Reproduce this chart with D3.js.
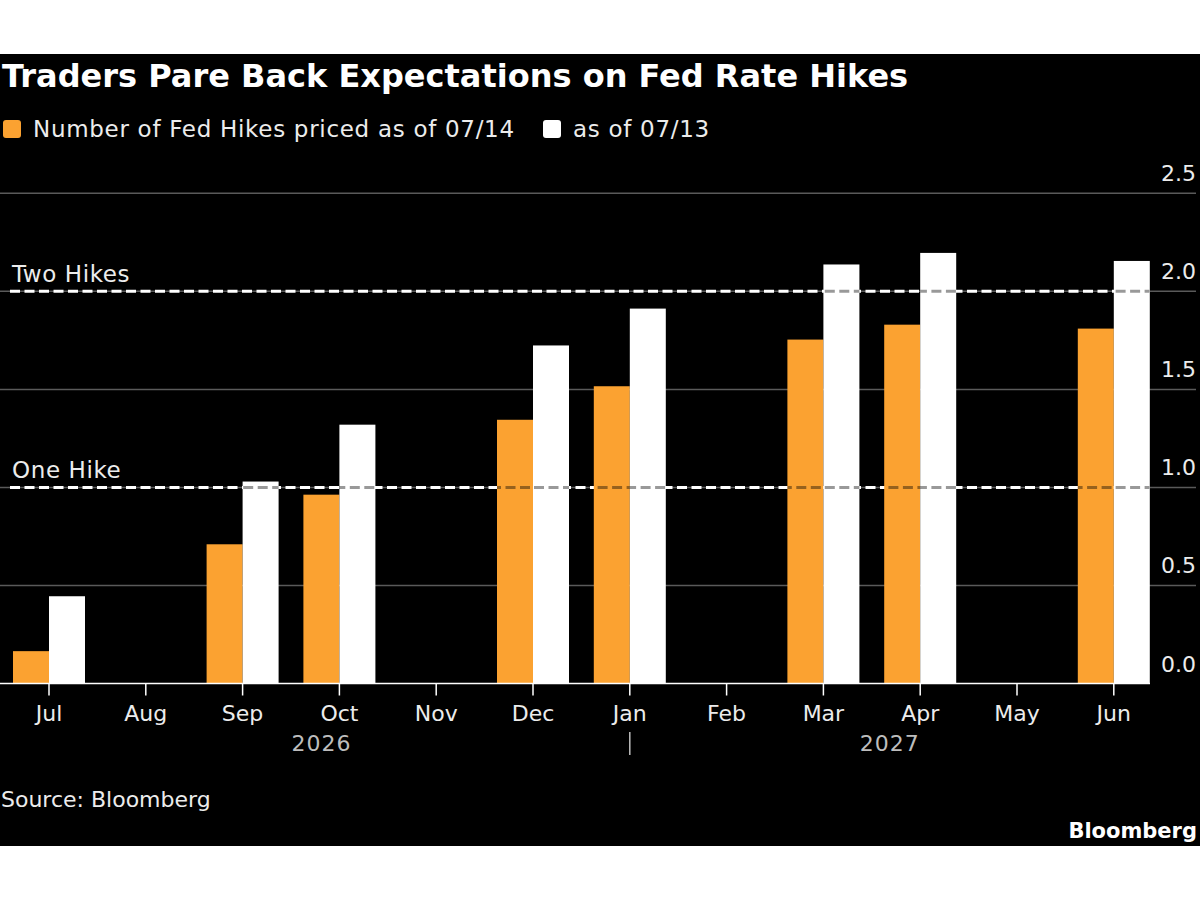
<!DOCTYPE html>
<html>
<head>
<meta charset="utf-8">
<script src="https://cdn.jsdelivr.net/npm/d3@7"></script>
<style>
  body { margin: 0; background: #fff; }
  svg { display: block; }
</style>
</head>
<body>
<div class="chart"></div>
<script>
// data
let months = ["Jul", "Aug", "Sep", "Oct", "Nov", "Dec", "Jan", "Feb", "Mar", "Apr", "May", "Jun"];
let hikes0714 = [0.165, null, 0.71, 0.963, null, 1.345, 1.516, null, 1.754, 1.83, null, 1.81];
let hikes0713 = [0.445, null, 1.03, 1.32, null, 1.724, 1.912, null, 2.137, 2.196, null, 2.155];
let seriesNames = ["Number of Fed Hikes priced as of 07/14", "as of 07/13"];
let yTicks = [0, 0.5, 1.0, 1.5, 2.0, 2.5];
let refValues = [1, 2];
let refLabels = ["One Hike", "Two Hikes"];
let years = ["2026", "2027"];
let yearStart = ["Jul", "Jan"];

let orange = "#fba231";
let labelColor = "#ececec";
let font = "'DejaVu Sans', sans-serif";

let svg = d3.select(".chart")
    .append("svg")
    .attr("width", 1200)
    .attr("height", 900);

// black panel
svg.append("rect")
    .attr("x", 0)
    .attr("y", 54)
    .attr("width", 1200)
    .attr("height", 792)
    .attr("fill", "#000");

let x = d3.scaleBand()
    .domain(months)
    .range([0.6, 1162.2])
    .padding(0);

let xSub = d3.scaleBand()
    .domain([0, 1])
    .range([-36, 36]);

let y = d3.scaleLinear()
    .domain([0, 2.5])
    .range([683.5, 193.3]);

let mid = function (m) { return x(m) + x.bandwidth() / 2; };

// title
svg.append("text")
    .attr("x", 2)
    .attr("y", 87)
    .text("Traders Pare Back Expectations on Fed Rate Hikes")
    .style("font-family", font)
    .style("font-weight", "bold")
    .style("font-size", "32px")
    .attr("fill", "#fff");

// legend
let legendX = [3, 543];
let legend = svg.append("g")
    .selectAll("g")
    .data(seriesNames)
    .enter()
    .append("g")
    .attr("transform", function (d, i) { return "translate(" + legendX[i] + ",120)"; });

legend.append("rect")
    .attr("width", 18)
    .attr("height", 18)
    .attr("rx", 3)
    .attr("fill", function (d, i) { return i == 0 ? orange : "#fff"; });

legend.append("text")
    .attr("x", 30)
    .attr("y", 17)
    .text(function (d) { return d; })
    .style("font-family", font)
    .style("font-size", "23px")
    .style("letter-spacing", "0.7px")
    .attr("fill", labelColor);

// gridlines + y labels
let grid = svg.append("g");
grid.selectAll("line")
    .data(yTicks.filter(function (d) { return d > 0; }))
    .enter()
    .append("line")
    .attr("x1", 0)
    .attr("x2", 1196)
    .attr("y1", function (d) { return y(d); })
    .attr("y2", function (d) { return y(d); })
    .attr("stroke", "#5a5a5a")
    .attr("stroke-width", 1.5);

grid.selectAll("text")
    .data(yTicks)
    .enter()
    .append("text")
    .attr("x", 1196)
    .attr("y", function (d) { return y(d) - 12; })
    .attr("text-anchor", "end")
    .text(d3.format(".1f"))
    .style("font-family", font)
    .style("font-size", "22px")
    .attr("fill", labelColor);

// reference dashed lines
let refDash = "10,4.5";
let refs = svg.append("g");
refs.selectAll("line")
    .data(refValues)
    .enter()
    .append("line")
    .attr("x1", 10)
    .attr("x2", 1150)
    .attr("y1", function (d) { return y(d); })
    .attr("y2", function (d) { return y(d); })
    .attr("stroke", "#fff")
    .attr("stroke-width", 3)
    .attr("stroke-dasharray", refDash);

refs.selectAll("text")
    .data(refValues)
    .enter()
    .append("text")
    .attr("x", 12)
    .attr("y", function (d) { return y(d) - 9; })
    .text(function (d, i) { return refLabels[i]; })
    .style("font-family", font)
    .style("font-size", "23px")
    .style("letter-spacing", "0.6px")
    .attr("fill", labelColor);

// bars
let rows = months.map(function (m, i) { return { month: m, vals: [hikes0714[i], hikes0713[i]] }; });
let barData = [];
rows.forEach(function (r) {
    r.vals.forEach(function (v, k) {
        if (v != null) barData.push({ month: r.month, k: k, v: v });
    });
});

svg.append("g")
    .selectAll("rect")
    .data(barData)
    .enter()
    .append("rect")
    .attr("x", function (d) { return mid(d.month) + xSub(d.k); })
    .attr("y", function (d) { return y(d.v); })
    .attr("width", xSub.bandwidth())
    .attr("height", function (d) { return y(0) - y(d.v); })
    .attr("fill", function (d) { return d.k == 0 ? orange : "#fff"; });

// faint dashes where the reference lines cross a bar
let crossings = [];
barData.forEach(function (b) {
    refValues.forEach(function (r) {
        if (b.v > r) crossings.push({ b: b, r: r });
    });
});
svg.append("g")
    .selectAll("line")
    .data(crossings)
    .enter()
    .append("line")
    .attr("x1", function (d) { return mid(d.b.month) + xSub(d.b.k); })
    .attr("x2", function (d) { return mid(d.b.month) + xSub(d.b.k) + xSub.bandwidth(); })
    .attr("y1", function (d) { return y(d.r); })
    .attr("y2", function (d) { return y(d.r); })
    .attr("stroke", "#000")
    .attr("stroke-opacity", 0.4)
    .attr("stroke-width", 3)
    .attr("stroke-dasharray", refDash)
    .attr("stroke-dashoffset", function (d) { return -(mid(d.b.month) + xSub(d.b.k) - 10); });

// x axis
svg.append("line")
    .attr("x1", 0)
    .attr("x2", 1150)
    .attr("y1", y(0))
    .attr("y2", y(0))
    .attr("stroke", "#fff")
    .attr("stroke-width", 1.5);

let xAxis = svg.append("g");
xAxis.selectAll("line")
    .data(months)
    .enter()
    .append("line")
    .attr("x1", mid)
    .attr("x2", mid)
    .attr("y1", y(0))
    .attr("y2", y(0) + 12)
    .attr("stroke", "#fff")
    .attr("stroke-width", 1.5);

xAxis.selectAll("text")
    .data(months)
    .enter()
    .append("text")
    .attr("x", mid)
    .attr("y", 721)
    .attr("text-anchor", "middle")
    .text(function (d) { return d; })
    .style("font-family", font)
    .style("font-size", "22px")
    .attr("fill", labelColor);

// year labels and separator
let sepX = mid("Jan");
svg.append("line")
    .attr("x1", sepX)
    .attr("x2", sepX)
    .attr("y1", 732)
    .attr("y2", 755)
    .attr("stroke", "#bdbdbd")
    .attr("stroke-width", 1.5);

let yearCenters = [(mid(yearStart[0]) - 36 + sepX) / 2, (sepX + mid(months[months.length - 1]) + 36) / 2];
svg.append("g")
    .selectAll("text")
    .data(years)
    .enter()
    .append("text")
    .attr("x", function (d, i) { return yearCenters[i]; })
    .attr("y", 751)
    .attr("text-anchor", "middle")
    .text(function (d) { return d; })
    .style("font-family", font)
    .style("font-size", "22px")
    .style("letter-spacing", "1px")
    .attr("fill", "#bdbdbd");

// footer
svg.append("text")
    .attr("x", 1)
    .attr("y", 807)
    .text("Source: Bloomberg")
    .style("font-family", font)
    .style("font-size", "22px")
    .attr("fill", labelColor);

svg.append("text")
    .attr("x", 1197)
    .attr("y", 838)
    .attr("text-anchor", "end")
    .text("Bloomberg")
    .style("font-family", font)
    .style("font-weight", "bold")
    .style("font-size", "21px")
    .attr("fill", "#fff");
</script>
</body>
</html>
